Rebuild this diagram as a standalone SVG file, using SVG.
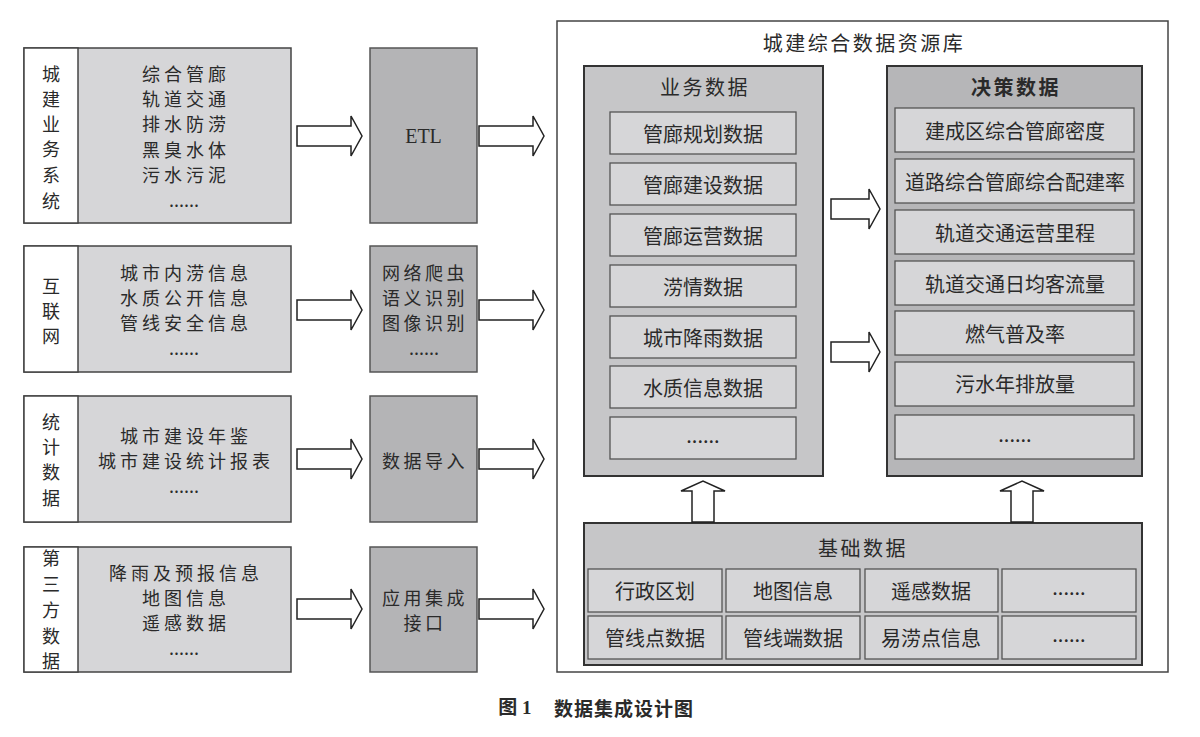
<svg xmlns="http://www.w3.org/2000/svg" width="1200" height="737" viewBox="0 0 1200 737">
<style>
text{font-family:"Noto Sans CJK SC","Noto Sans",sans-serif;fill:#2a2a2a;dominant-baseline:central;text-anchor:middle}
.src{fill:#d6d6d8;stroke:#444;stroke-width:1.5}
.lbl{fill:#fff;stroke:#444;stroke-width:1.5}
.mid{fill:#b4b4b6;stroke:#555;stroke-width:1.5}
.item{fill:#d6d6d8;stroke:#555;stroke-width:1.3}
.panel{fill:#c6c6c8;stroke:#333;stroke-width:2}
.panel2{fill:#b6b6b8;stroke:#333;stroke-width:2}
.arr{fill:#fff;stroke:#222;stroke-width:1.5}
.t19{font-size:18px;letter-spacing:4px}
.t18{font-size:18px}
.t20{font-size:20px}
.t20s{font-size:20px;letter-spacing:2.5px}
.etl{font-family:"Liberation Serif",serif;font-size:20px}
.b{font-weight:bold}
</style>
<defs>
<path id="ar" class="arr" d="M0,-10 H54 V-20 L65,0 L54,20 V10 H0 Z"/>
<path id="au" class="arr" d="M-11,41 V10 H-22 L0,0 L22,10 H11 V41 Z"/>
</defs>

<g id="src1">
<rect class="src" x="24" y="48" width="267" height="175"/>
<rect class="lbl" x="24" y="48" width="54" height="175"/>
<text class="t18" x="51" y="73">城</text><text class="t18" x="51" y="98">建</text><text class="t18" x="51" y="123">业</text><text class="t18" x="51" y="148">务</text><text class="t18" x="51" y="174">系</text><text class="t18" x="51" y="200">统</text>
<text class="t19" x="186" y="73">综合管廊</text><text class="t19" x="186" y="98">轨道交通</text><text class="t19" x="186" y="123">排水防涝</text><text class="t19" x="186" y="149">黑臭水体</text><text class="t19" x="186" y="174">污水污泥</text><text class="t19" x="184" y="199" style="letter-spacing:0">......</text>
</g>
<g id="src2">
<rect class="src" x="24" y="246" width="267" height="126"/>
<rect class="lbl" x="24" y="246" width="54" height="126"/>
<text class="t18" x="51" y="285">互</text><text class="t18" x="51" y="310">联</text><text class="t18" x="51" y="335">网</text>
<text class="t19" x="186" y="272">城市内涝信息</text><text class="t19" x="186" y="297">水质公开信息</text><text class="t19" x="186" y="322">管线安全信息</text><text class="t19" x="184" y="347" style="letter-spacing:0">......</text>
</g>
<g id="src3">
<rect class="src" x="24" y="396" width="267" height="126"/>
<rect class="lbl" x="24" y="396" width="54" height="126"/>
<text class="t18" x="51" y="421">统</text><text class="t18" x="51" y="446">计</text><text class="t18" x="51" y="471">数</text><text class="t18" x="51" y="497">据</text>
<text class="t19" x="186" y="435">城市建设年鉴</text><text class="t19" x="186" y="460">城市建设统计报表</text><text class="t19" x="184" y="485" style="letter-spacing:0">......</text>
</g>
<g id="src4">
<rect class="src" x="24" y="547" width="267" height="125"/>
<rect class="lbl" x="24" y="547" width="54" height="125"/>
<text class="t18" x="51" y="557">第</text><text class="t18" x="51" y="583">三</text><text class="t18" x="51" y="609">方</text><text class="t18" x="51" y="635">数</text><text class="t18" x="51" y="660">据</text>
<text class="t19" x="186" y="572">降雨及预报信息</text><text class="t19" x="186" y="597">地图信息</text><text class="t19" x="186" y="622">遥感数据</text><text class="t19" x="184" y="647" style="letter-spacing:0">......</text>
</g>

<g id="etl">
<rect class="mid" x="370" y="48" width="107" height="175"/>
<text class="etl" x="423.5" y="136">ETL</text>
</g>
<g id="crawl">
<rect class="mid" x="370" y="246" width="107" height="126"/>
<text class="t19" x="425" y="272" style="letter-spacing:3.5px">网络爬虫</text><text class="t19" x="425" y="297" style="letter-spacing:3.5px">语义识别</text><text class="t19" x="425" y="322" style="letter-spacing:3.5px">图像识别</text><text class="t19" x="424" y="347" style="letter-spacing:0">......</text>
</g>
<g id="import">
<rect class="mid" x="370" y="396" width="107" height="126"/>
<text class="t19" x="425" y="460" style="letter-spacing:3.5px">数据导入</text>
</g>
<g id="api">
<rect class="mid" x="370" y="547" width="107" height="125"/>
<text class="t19" x="425" y="597" style="letter-spacing:3.5px">应用集成</text><text class="t19" x="425" y="622" style="letter-spacing:3.5px">接口</text>
</g>

<g id="repo">
<rect x="557" y="21" width="611" height="651" fill="#fff" stroke="#444" stroke-width="1.5"/>
<text class="t20s" x="864" y="42">城建综合数据资源库</text>
</g>

<g id="biz">
<rect class="panel" x="584" y="66" width="239" height="410"/>
<text class="t20s" x="705" y="86">业务数据</text>
<rect class="item" x="610" y="112" width="186" height="42"/><text class="t20" x="703" y="133">管廊规划数据</text>
<rect class="item" x="610" y="163" width="186" height="42"/><text class="t20" x="703" y="184">管廊建设数据</text>
<rect class="item" x="610" y="214" width="186" height="42"/><text class="t20" x="703" y="235">管廊运营数据</text>
<rect class="item" x="610" y="265" width="186" height="42"/><text class="t20" x="703" y="286">涝情数据</text>
<rect class="item" x="610" y="316" width="186" height="42"/><text class="t20" x="703" y="337">城市降雨数据</text>
<rect class="item" x="610" y="366" width="186" height="42"/><text class="t20" x="703" y="387">水质信息数据</text>
<rect class="item" x="610" y="417" width="186" height="42"/><text class="t20" x="703" y="434">......</text>
</g>

<g id="decision">
<rect class="panel2" x="887" y="66" width="255" height="410"/>
<text class="t20s b" x="1016" y="86">决策数据</text>
<rect class="item" x="895" y="108" width="239" height="44"/><text class="t20" x="1015" y="130">建成区综合管廊密度</text>
<rect class="item" x="895" y="159" width="239" height="44"/><text class="t20" x="1015" y="181">道路综合管廊综合配建率</text>
<rect class="item" x="895" y="210" width="239" height="44"/><text class="t20" x="1015" y="232">轨道交通运营里程</text>
<rect class="item" x="895" y="261" width="239" height="44"/><text class="t20" x="1015" y="283">轨道交通日均客流量</text>
<rect class="item" x="895" y="311" width="239" height="44"/><text class="t20" x="1015" y="333">燃气普及率</text>
<rect class="item" x="895" y="362" width="239" height="44"/><text class="t20" x="1015" y="383">污水年排放量</text>
<rect class="item" x="895" y="415" width="239" height="44"/><text class="t20" x="1015" y="433">......</text>
</g>

<g id="base">
<rect class="panel" x="584" y="523" width="558" height="142"/>
<text class="t20s" x="863" y="547">基础数据</text>
<rect class="item" x="588" y="569" width="134" height="43"/><text class="t20" x="655" y="590">行政区划</text>
<rect class="item" x="726" y="569" width="134" height="43"/><text class="t20" x="793" y="590">地图信息</text>
<rect class="item" x="865" y="569" width="133" height="43"/><text class="t20" x="931" y="590">遥感数据</text>
<rect class="item" x="1002" y="569" width="134" height="43"/><text class="t20" x="1069" y="586">......</text>
<rect class="item" x="588" y="616" width="134" height="43"/><text class="t20" x="655" y="637">管线点数据</text>
<rect class="item" x="726" y="616" width="134" height="43"/><text class="t20" x="793" y="637">管线端数据</text>
<rect class="item" x="865" y="616" width="133" height="43"/><text class="t20" x="931" y="637">易涝点信息</text>
<rect class="item" x="1002" y="616" width="134" height="43"/><text class="t20" x="1069" y="633">......</text>
</g>

<g id="connectors">
<use href="#ar" x="297" y="136"/>
<use href="#ar" x="297" y="310"/>
<use href="#ar" x="297" y="459"/>
<use href="#ar" x="297" y="609"/>
<use href="#ar" x="479" y="136"/>
<use href="#ar" x="479" y="310"/>
<use href="#ar" x="479" y="459"/>
<use href="#ar" x="479" y="609"/>
<path class="arr" d="M831,199 H869 V189 L880,209 L869,229 V219 H831 Z"/>
<path class="arr" d="M831,342 H869 V332 L880,352 L869,372 V362 H831 Z"/>
<use href="#au" x="703" y="481"/>
<use href="#au" x="1022" y="481"/>
</g>

<g id="caption">
<text x="515" y="707" style="font-size:19px;font-weight:bold;font-family:'Liberation Serif','Noto Sans CJK SC',serif">图 1</text>
<text x="624" y="707" style="font-size:19px;font-weight:bold;letter-spacing:1px">数据集成设计图</text>
</g>
</svg>
